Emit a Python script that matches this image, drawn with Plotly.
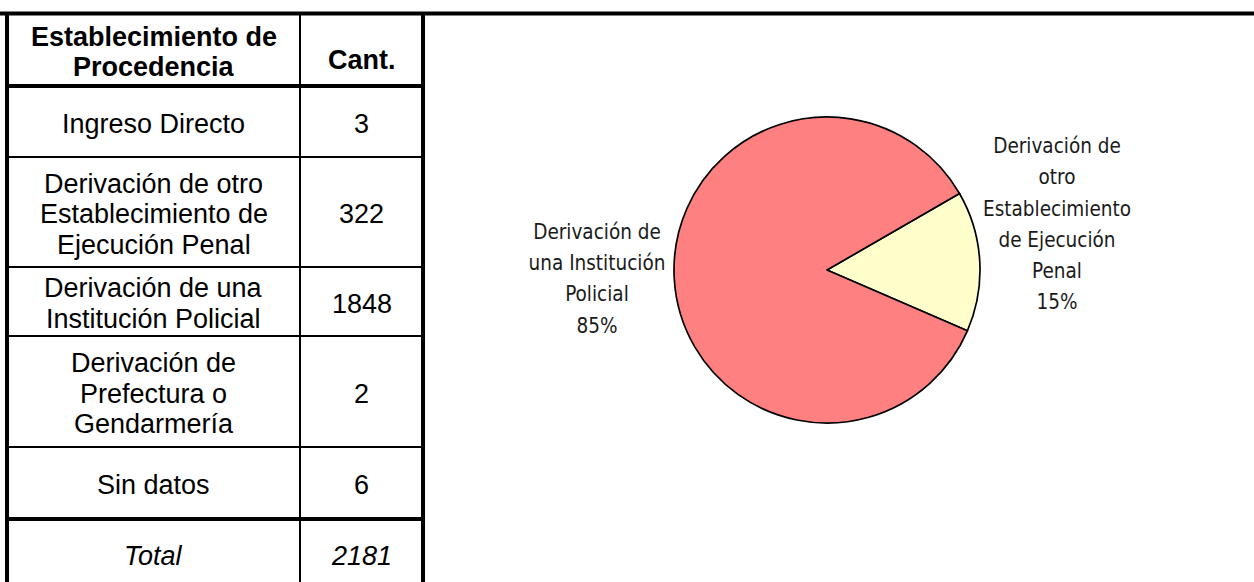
import math
import plotly.graph_objects as go

# ---------------- data ----------------
header_labels = ["Establecimiento de<br>Procedencia", "Cant."]
categories = [
    "Ingreso Directo",
    "Derivación de otro<br>Establecimiento de<br>Ejecución Penal",
    "Derivación de una<br>Institución Policial",
    "Derivación de<br>Prefectura o<br>Gendarmería",
    "Sin datos",
]
counts = [3, 322, 1848, 2, 6]
total_label = "Total"
total_value = sum(counts)  # 2181

pie_labels = ["Derivación de otro Establecimiento de Ejecución Penal",
              "Derivación de una Institución Policial"]
pie_values = [322, 1848]
pie_text = ["Derivación de<br>otro<br>Establecimiento<br>de Ejecución<br>Penal",
            "Derivación de<br>una Institución<br>Policial"]
pie_colors = ["#FFFFCC", "#FF8080"]

# ---------------- layout constants ----------------
W, H = 1254, 582
row_edges = [13.5, 86, 157, 267, 336, 447, 519, 589]
thick_rows = {0, 1, 6}
x_left, x_div, x_right = 7, 300, 423
col1_c = (x_left + x_div) / 2
col2_c = (x_div + x_right) / 2
line_step = 30.5
TFONT = "Liberation Sans, Arial, sans-serif"
PFONT = "Liberation Sans Narrow, Arial Narrow, DejaVu Sans Condensed, sans-serif"
PSIZE = 20.5
PSTEP = 31.3
PBOX = 180
PLABEL_OFF = 77.5  # distance from slice edge point to label centre

pie_cx, pie_cy, pie_r = 827, 270, 153
rotation = 60  # degrees clockwise from 12 o'clock

fig = go.Figure()

# ---------------- pie ----------------
fig.add_trace(go.Pie(
    labels=pie_labels, values=pie_values, sort=False, direction="clockwise",
    rotation=rotation, textinfo="none", hoverinfo="label+value+percent",
    marker=dict(colors=pie_colors, line=dict(color="black", width=1.7)),
    showlegend=False,
    domain=dict(x=[(pie_cx - pie_r) / W, (pie_cx + pie_r) / W],
                y=[1 - (pie_cy + pie_r) / H, 1 - (pie_cy - pie_r) / H]),
))

# invisible scatter to establish the pixel axes
fig.add_trace(go.Scatter(x=[0, W], y=[0, H], mode="markers",
                         marker=dict(opacity=0), hoverinfo="skip", showlegend=False))

shapes = []
for i, y in enumerate(row_edges[:-1]):
    w = 4 if i in thick_rows else 2
    x0 = 0 if i == 0 else x_left
    x1 = W if i == 0 else x_right
    shapes.append(dict(type="line", xref="x", yref="y", x0=x0, x1=x1, y0=y, y1=y,
                       line=dict(color="black", width=w)))
for x, w in [(x_left, 4), (x_div, 2), (x_right, 4)]:
    shapes.append(dict(type="line", xref="x", yref="y", x0=x, x1=x,
                       y0=row_edges[0], y1=H + 5, line=dict(color="black", width=w)))

annotations = []


def cell_text(text, xc, top, bottom, size, bold=False, italic=False, nudge=2):
    lines = text.split("<br>")
    n = len(lines)
    yc = (top + bottom) / 2 + nudge
    for k, ln in enumerate(lines):
        t = f"<b>{ln}</b>" if bold else ln
        t = f"<i>{t}</i>" if italic else t
        annotations.append(dict(
            xref="x", yref="y", x=xc, y=yc + (k - (n - 1) / 2) * line_step,
            text=t, showarrow=False, xanchor="center", yanchor="middle",
            font=dict(family=TFONT, size=size, color="black")))


# header
cell_text(header_labels[0], col1_c, row_edges[0], row_edges[1], 27, bold=True)
cell_text(header_labels[1], col2_c, row_edges[0] + 8, row_edges[1] + 8, 27, bold=True)
# body
for i, (c, v) in enumerate(zip(categories, counts)):
    top, bot = row_edges[i + 1], row_edges[i + 2]
    cell_text(c, col1_c, top, bot, 27)
    cell_text(str(v), col2_c, top, bot, 27)
# total
cell_text(total_label, col1_c, row_edges[6], row_edges[7], 27, italic=True)
cell_text(str(total_value), col2_c, row_edges[6], row_edges[7], 27, italic=True)

# ---------------- pie labels (positions derived from slice angles) ----------------
tot = sum(pie_values)
start = 90 - rotation  # math angle (ccw from +x) of first slice edge
label_yshift = [37, 0]
acc = 0
for i, (v, t) in enumerate(zip(pie_values, pie_text)):
    span = 360 * v / tot
    mid = start - (acc + span / 2)
    acc += span
    ca, sa = math.cos(math.radians(mid)), math.sin(math.radians(mid))
    px = pie_cx + pie_r * ca
    py = pie_cy - pie_r * sa
    pct = f"{round(100 * v / tot)}%"
    sign = 1 if ca >= 0 else -1
    lines = (t + "<br>" + pct).split("<br>")
    n = len(lines)
    for k, ln in enumerate(lines):
        annotations.append(dict(
            xref="x", yref="y", x=px + sign * PLABEL_OFF,
            y=py + (k - (n - 1) / 2) * PSTEP,
            text=ln, showarrow=False, width=PBOX,
            xanchor="center", yanchor="middle", align="center",
            yshift=label_yshift[i],
            font=dict(family=PFONT, size=PSIZE, color="#1a1a1a")))

fig.update_layout(
    width=W, height=H, margin=dict(l=0, r=0, t=0, b=0),
    paper_bgcolor="white", plot_bgcolor="white",
    xaxis=dict(range=[0, W], visible=False, domain=[0, 1], fixedrange=True),
    yaxis=dict(range=[H, 0], visible=False, domain=[0, 1], fixedrange=True),
    shapes=shapes, annotations=annotations,
)

fig.write_html("out.html", config={"displayModeBar": False},
               post_script="document.body.style.margin='0';document.body.style.overflow='hidden';")
